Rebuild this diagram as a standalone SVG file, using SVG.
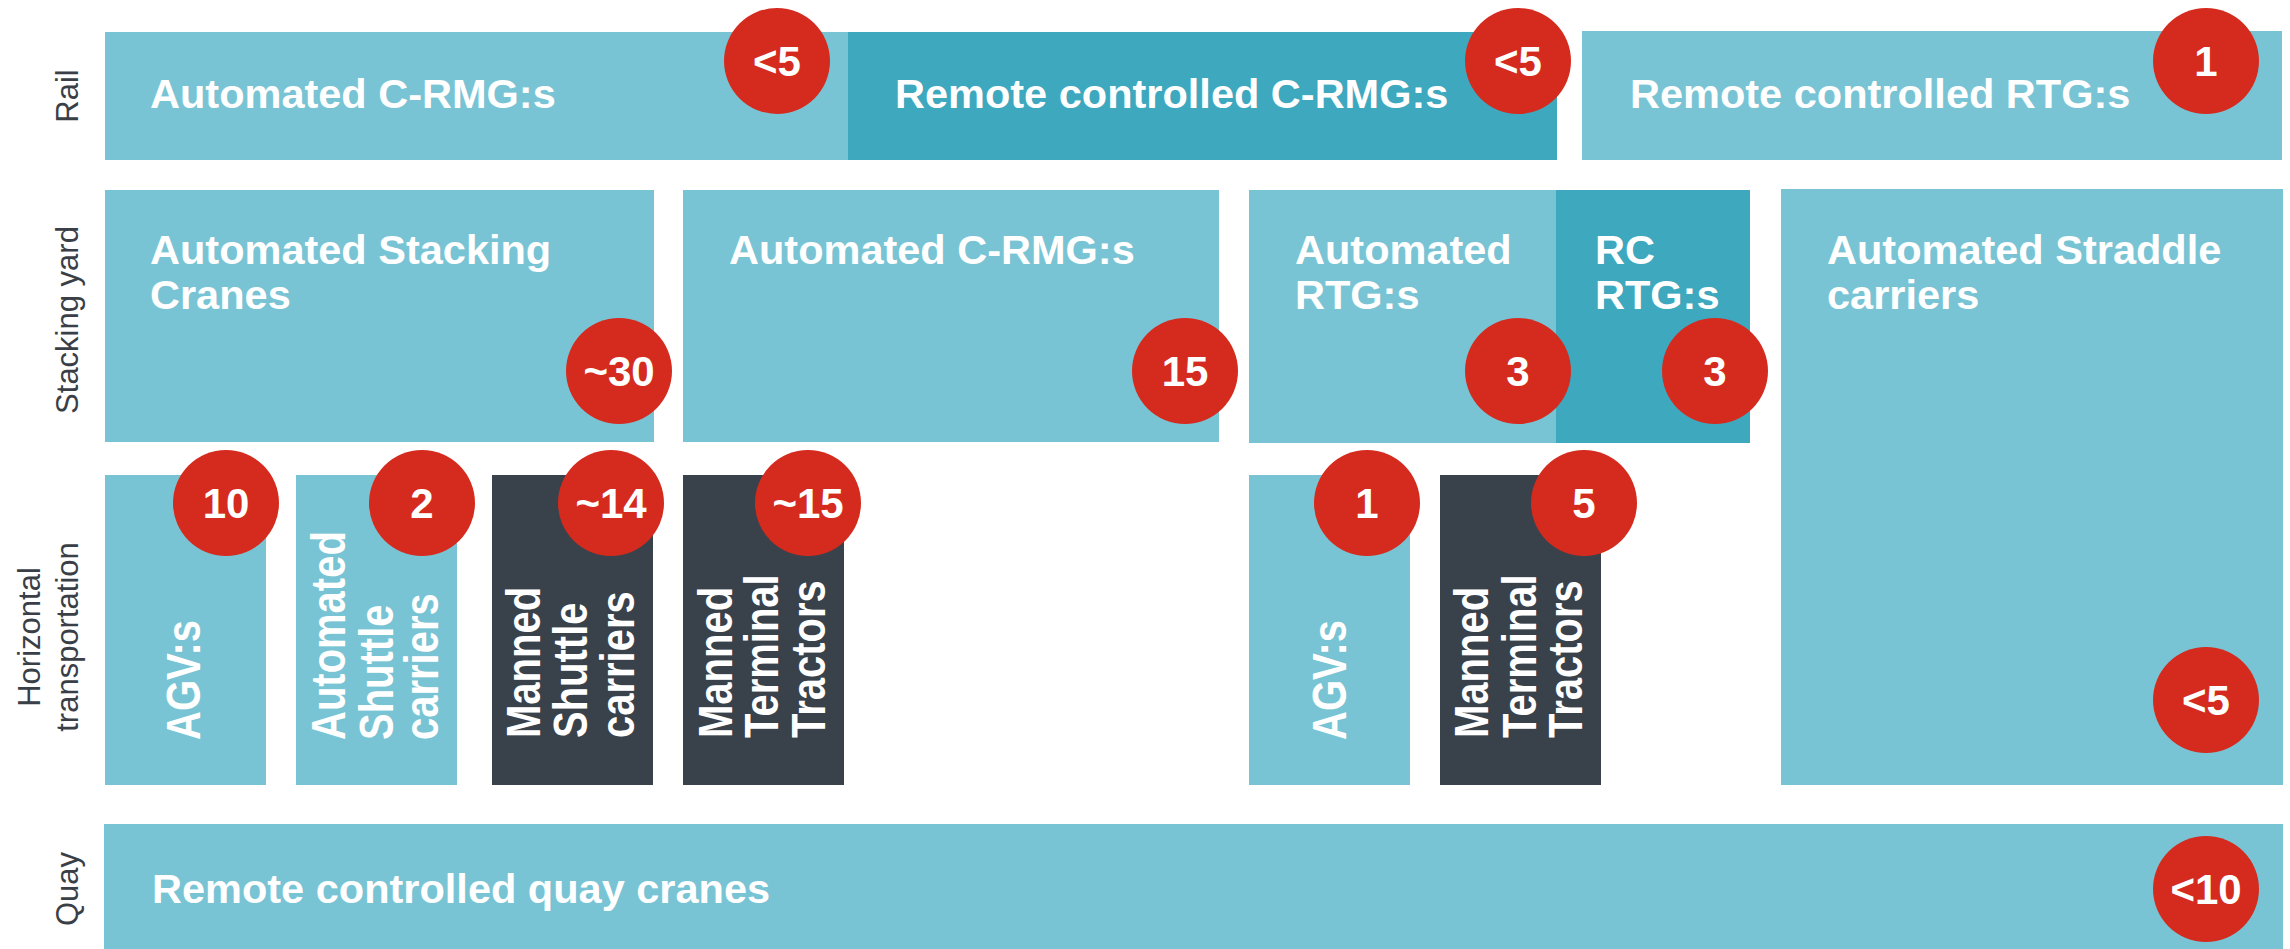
<svg xmlns="http://www.w3.org/2000/svg" width="2290" height="949" viewBox="0 0 2290 949">
<style>
.lt{fill:#79C4D4}
.dk{fill:#3DA8BE}
.sl{fill:#39424B}
.badge circle{fill:#D52B1E}
.badge text{fill:#fff;font-family:"Liberation Sans",Arial,sans-serif;font-weight:bold;font-size:42px;text-anchor:middle}
.lbl{fill:#fff;font-family:"Liberation Sans",Arial,sans-serif;font-weight:bold;font-size:41.5px}
.vl{fill:#fff;font-family:"Liberation Sans",Arial,sans-serif;font-weight:bold;font-size:40px}
.row{fill:#3A3F47;font-family:"Liberation Sans",Arial,sans-serif;font-size:31px;text-anchor:middle}
</style>
<rect width="2290" height="949" fill="#fff"/>
<g id="row-labels">
<text class="row" transform="translate(78,96) rotate(-90)">Rail</text>
<text class="row" transform="translate(78,320) rotate(-90)">Stacking yard</text>
<text class="row" transform="translate(40,637) rotate(-90)">Horizontal</text>
<text class="row" transform="translate(78,637) rotate(-90)">transportation</text>
<text class="row" transform="translate(78,889) rotate(-90)">Quay</text>
</g>
<g id="connectors"></g>
<g id="rail-auto-crmg">
<rect class="lt" x="105" y="32" width="743" height="128"/>
<text class="lbl" x="150" y="108">Automated C-RMG:s</text>
</g>
<g id="rail-rc-crmg">
<rect class="dk" x="848" y="32" width="709" height="128"/>
<text class="lbl" x="895" y="108">Remote controlled C-RMG:s</text>
</g>
<g id="rail-rc-rtg">
<rect class="lt" x="1582" y="31" width="700" height="129"/>
<text class="lbl" x="1630" y="108">Remote controlled RTG:s</text>
</g>
<g id="yard-asc">
<rect class="lt" x="105" y="190" width="549" height="252"/>
<text class="lbl" x="150" y="264">Automated Stacking</text>
<text class="lbl" x="150" y="309">Cranes</text>
</g>
<g id="yard-auto-crmg">
<rect class="lt" x="683" y="190" width="536" height="252"/>
<text class="lbl" x="729" y="264">Automated C-RMG:s</text>
</g>
<g id="yard-auto-rtg">
<rect class="lt" x="1249" y="190" width="307" height="253"/>
<text class="lbl" x="1295" y="264">Automated</text>
<text class="lbl" x="1295" y="309">RTG:s</text>
</g>
<g id="yard-rc-rtg">
<rect class="dk" x="1556" y="190" width="194" height="253"/>
<text class="lbl" x="1595" y="264">RC</text>
<text class="lbl" x="1595" y="309">RTG:s</text>
</g>
<g id="yard-straddle">
<rect class="lt" x="1781" y="189" width="502" height="596"/>
<text class="lbl" x="1827" y="264">Automated Straddle</text>
<text class="lbl" x="1827" y="309">carriers</text>
</g>
<g id="ht-agv-1">
<rect class="lt" x="105" y="475" width="161" height="310"/>
<text class="vl" transform="translate(200,740) rotate(-90) scale(1,1.2)">AGV:s</text>
</g>
<g id="ht-auto-shuttle">
<rect class="lt" x="296" y="475" width="161" height="310"/>
<text class="vl" transform="translate(345,740) rotate(-90) scale(1,1.2)">Automated</text>
<text class="vl" transform="translate(393,740) rotate(-90) scale(1,1.2)">Shuttle</text>
<text class="vl" transform="translate(438,740) rotate(-90) scale(1,1.2)">carriers</text>
</g>
<g id="ht-manned-shuttle">
<rect class="sl" x="492" y="475" width="161" height="310"/>
<text class="vl" transform="translate(540,738) rotate(-90) scale(1,1.2)">Manned</text>
<text class="vl" transform="translate(587,738) rotate(-90) scale(1,1.2)">Shuttle</text>
<text class="vl" transform="translate(634,738) rotate(-90) scale(1,1.2)">carriers</text>
</g>
<g id="ht-manned-tt-1">
<rect class="sl" x="683" y="475" width="161" height="310"/>
<text class="vl" transform="translate(732,738) rotate(-90) scale(1,1.2)">Manned</text>
<text class="vl" transform="translate(778,738) rotate(-90) scale(1,1.2)">Terminal</text>
<text class="vl" transform="translate(825,738) rotate(-90) scale(1,1.2)">Tractors</text>
</g>
<g id="ht-agv-2">
<rect class="lt" x="1249" y="475" width="161" height="310"/>
<text class="vl" transform="translate(1346,740) rotate(-90) scale(1,1.2)">AGV:s</text>
</g>
<g id="ht-manned-tt-2">
<rect class="sl" x="1440" y="475" width="161" height="310"/>
<text class="vl" transform="translate(1488,738) rotate(-90) scale(1,1.2)">Manned</text>
<text class="vl" transform="translate(1536,738) rotate(-90) scale(1,1.2)">Terminal</text>
<text class="vl" transform="translate(1582,738) rotate(-90) scale(1,1.2)">Tractors</text>
</g>
<g id="quay-cranes">
<rect class="lt" x="104" y="824" width="2179" height="125"/>
<text class="lbl" x="152" y="903">Remote controlled quay cranes</text>
</g>
<g id="badges">
<g class="badge"><circle cx="777" cy="61" r="53"/><text x="777" y="76">&lt;5</text></g>
<g class="badge"><circle cx="1518" cy="61" r="53"/><text x="1518" y="76">&lt;5</text></g>
<g class="badge"><circle cx="2206" cy="61" r="53"/><text x="2206" y="76">1</text></g>
<g class="badge"><circle cx="619" cy="371" r="53"/><text x="619" y="386">~30</text></g>
<g class="badge"><circle cx="1185" cy="371" r="53"/><text x="1185" y="386">15</text></g>
<g class="badge"><circle cx="1518" cy="371" r="53"/><text x="1518" y="386">3</text></g>
<g class="badge"><circle cx="1715" cy="371" r="53"/><text x="1715" y="386">3</text></g>
<g class="badge"><circle cx="226" cy="503" r="53"/><text x="226" y="518">10</text></g>
<g class="badge"><circle cx="422" cy="503" r="53"/><text x="422" y="518">2</text></g>
<g class="badge"><circle cx="611" cy="503" r="53"/><text x="611" y="518">~14</text></g>
<g class="badge"><circle cx="808" cy="503" r="53"/><text x="808" y="518">~15</text></g>
<g class="badge"><circle cx="1367" cy="503" r="53"/><text x="1367" y="518">1</text></g>
<g class="badge"><circle cx="1584" cy="503" r="53"/><text x="1584" y="518">5</text></g>
<g class="badge"><circle cx="2206" cy="700" r="53"/><text x="2206" y="715">&lt;5</text></g>
<g class="badge"><circle cx="2206" cy="889" r="53"/><text x="2206" y="904">&lt;10</text></g>
</g>
</svg>
